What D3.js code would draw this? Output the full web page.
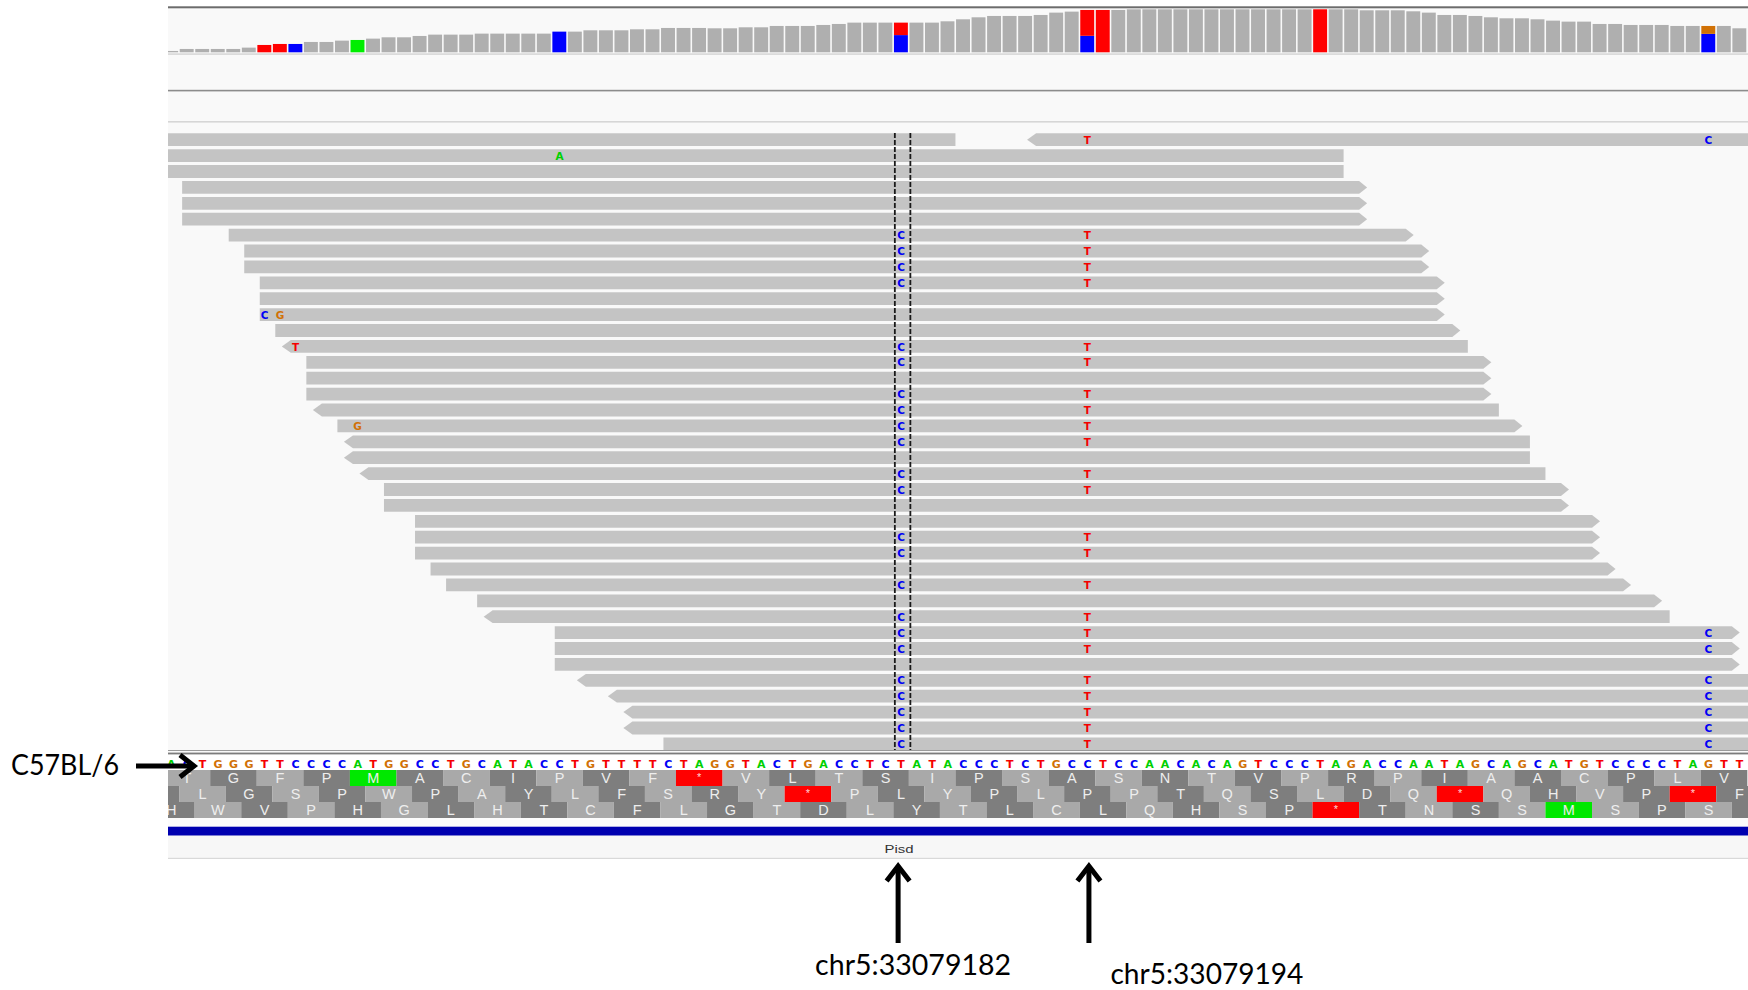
<!DOCTYPE html>
<html><head><meta charset="utf-8">
<script src="https://cdn.jsdelivr.net/npm/d3@7"></script>
<style>body{margin:0;background:#fff;}svg{display:block}</style>
</head><body>
<svg id="chart" width="1748" height="990"></svg>
<script>
// ---------------- DATA ----------------
const refStart = 33079135;               // genomic position of the first (leftmost) base shown
const refSeq = "ACTGGGTTCCCCATGGCCTGCATACCTGTTTTCTA" +
               "GGTACTGACCTCTATACCCTCTGCCTCCAACAC" +
               "AGTCCCTAGACCAATAGCAGCATGTCCCCTAGTT";
const coverage = [4,10,10,10,10,14,22,25,25,31,
  31,35,37,41,45,45,49,53,53,53,
  56,56,56,56,56,62,62,66,66,66,
  69,69,73,73,73,72,72,75,75,79,
  79,79,82,85,89,89,89,89,89,89,
  93,99,105,109,109,109,112,119,122,127,
  127,127,129,129,129,129,129,129,129,129,
  129,129,129,129,129,129,129,126,126,126,
  123,119,112,112,109,105,102,102,99,95,
  92,92,85,85,82,82,82,79,79,79,
  79,72];
// coloured coverage bars: base index -> allele fractions (bottom to top)
const coverageAlleles = [
  {i:6,  parts:[["T",1]]},
  {i:7,  parts:[["T",1]]},
  {i:8,  parts:[["C",1]]},
  {i:12, parts:[["A",1]]},
  {i:25, parts:[["C",1]]},
  {i:47, parts:[["C",0.58],["T",0.42]]},
  {i:59, parts:[["C",0.39],["T",0.61]]},
  {i:60, parts:[["T",1]]},
  {i:74, parts:[["T",1]]},
  {i:99, parts:[["C",0.70],["G",0.30]]}
];
// reads: [row, startBase, endBase, strand]
const reads = [
  [0,-25,51,"-"],[0,56,132,"-"],
  [1,0,76,"-"],[2,0,76,"-"],
  [3,1,77,"+"],[4,1,77,"+"],[5,1,77,"+"],
  [6,4,80,"+"],
  [7,5,81,"+"],[8,5,81,"+"],
  [9,6,82,"+"],[10,6,82,"+"],[11,6,82,"+"],
  [12,7,83,"+"],
  [13,8,84,"-"],
  [14,9,85,"+"],[15,9,85,"+"],[16,9,85,"+"],
  [17,10,86,"-"],
  [18,11,87,"+"],
  [19,12,88,"-"],[20,12,88,"-"],
  [21,13,89,"-"],
  [22,14,90,"+"],[23,14,90,"+"],
  [24,16,92,"+"],[25,16,92,"+"],[26,16,92,"+"],
  [27,17,93,"+"],
  [28,18,94,"+"],
  [29,20,96,"+"],
  [30,21,97,"-"],
  [31,25,101,"+"],[32,25,101,"+"],[33,25,101,"+"],
  [34,27,103,"-"],
  [35,29,105,"-"],
  [36,30,106,"-"],[37,30,106,"-"],
  [38,32,108,"+"]
];
// rows carrying the two SNPs (C at base 47, T at base 59) and the C at base 99
const snpRows = [6,7,8,9,13,14,16,17,18,19,21,22,25,26,28,30,31,32,34,35,36,37,38];
const cRows99 = [0,31,32,34,35,36,37,38];
const otherMismatches = [[0,59,"T"],[1,25,"A"],[11,6,"C"],[11,7,"G"],[13,8,"T"],[18,12,"G"]];
// three-frame translation: first codon start (base index) and amino acids
const frameStarts = [0, -2, -1];
const frameAA = [
  "TGFPMACIPVF*VLTSIPSASNTVPRPIAACPLV",
  " LGSPWPAYLFSRY*PLYPLPPTQSLDQ*QHVP*F",
  "HWVPHGLHTCFLGTDLYTLCLQHSP*TNSSMSPS "
];
const frameFirstLight = [true, false, false];
const geneName = "Pisd";
const markers = [{pos:33079182, label:"chr5:33079182"}, {pos:33079194, label:"chr5:33079194"}];
const strainLabel = "C57BL/6";

// ---------------- DRAW ----------------
const svg = d3.select("#chart");
const nBases = 102;
const x = d3.scaleLinear().domain([refStart, refStart + nBases]).range([163.6, 1747.3]);
const bw = x(refStart + 1) - x(refStart);
const xi = i => x(refStart + i);
const baseColor = {A:"#00d000", C:"#0000f5", G:"#d17105", T:"#f50000"};
const covColor = {A:"#00ee00", C:"#0000ff", G:"#d17105", T:"#ff0000"};
const L = 168, R = 1748;

svg.append("defs").append("clipPath").attr("id","clip")
  .append("rect").attr("x",L).attr("y",0).attr("width",R-L).attr("height",990);
const g = svg.append("g").attr("clip-path","url(#clip)");

// panel backgrounds
g.append("rect").attr("x",L).attr("y",8).attr("width",R-L).attr("height",850).attr("fill","#f9f9f9");
g.append("rect").attr("x",L).attr("y",754).attr("width",R-L).attr("height",16).attr("fill","#ffffff");
g.append("rect").attr("x",L).attr("y",818).attr("width",R-L).attr("height",9).attr("fill","#fcfcfc");

// track separators
g.append("rect").attr("x",L).attr("y",6.3).attr("width",R-L).attr("height",2).attr("fill","#6c6c6c");
g.append("rect").attr("x",L).attr("y",53.3).attr("width",R-L).attr("height",1.6).attr("fill","#d8d8d8");
g.append("rect").attr("x",L).attr("y",89.8).attr("width",R-L).attr("height",1.6).attr("fill","#8c8c8c");
g.append("rect").attr("x",L).attr("y",121).attr("width",R-L).attr("height",1.6).attr("fill","#d6d6d6");

// coverage
const yCov = d3.scaleLinear().domain([0, 129]).range([52.3, 9.3]);
const colored = new Map(coverageAlleles.map(d => [d.i, d.parts]));
coverage.forEach((v, i) => {
  const x0 = xi(i) + 0.6, wd = bw - 1.6;
  if (!colored.has(i)) {
    g.append("rect").attr("x",x0).attr("y",yCov(v)).attr("width",wd)
      .attr("height",yCov(0)-yCov(v)).attr("fill","#afafaf");
  } else {
    let acc = 0;
    colored.get(i).forEach(([b, f]) => {
      const y1 = yCov(v*acc), y2 = yCov(v*(acc+f));
      g.append("rect").attr("x",x0).attr("y",y2).attr("width",wd)
        .attr("height",y1-y2).attr("fill",covColor[b]);
      acc += f;
    });
  }
});

// reads
const rowTop = r => 133.3 + 15.9*r;
const rh = 12.8;
reads.forEach(([r, s, e, strand]) => {
  const xs = xi(s) + 3, xe = xi(e), y0 = rowTop(r), y1 = y0 + rh, ym = y0 + rh/2;
  let p;
  if (strand === "+") p = `M${xs},${y0}L${xe},${y0}L${xe+8},${ym}L${xe},${y1}L${xs},${y1}Z`;
  else p = `M${xs-9},${ym}L${xs},${y0}L${xe},${y0}L${xe},${y1}L${xs},${y1}Z`;
  g.append("path").attr("d",p).attr("fill","#c4c4c4");
});

// mismatches
const mism = [];
snpRows.forEach(r => { mism.push([r,47,"C"]); mism.push([r,59,"T"]); });
cRows99.forEach(r => mism.push([r,99,"C"]));
otherMismatches.forEach(m => mism.push(m));
g.selectAll("text.mm").data(mism).join("text").attr("class","mm")
  .attr("x", d => xi(d[1]) + bw/2).attr("y", d => rowTop(d[0]) + 10.5)
  .attr("text-anchor","middle").attr("font-family","DejaVu Sans").attr("font-weight","bold")
  .attr("font-size",10.5).attr("fill", d => baseColor[d[2]]).text(d => d[2]);

// centre guide lines (dashed)
[47, 48].forEach(i => {
  g.append("line").attr("x1",xi(i)+1.5).attr("x2",xi(i)+1.5).attr("y1",133).attr("y2",750)
    .attr("stroke","#1a1a1a").attr("stroke-width",1.8).attr("stroke-dasharray","5,2");
});

// bottom of alignment panel
g.append("rect").attr("x",L).attr("y",750).attr("width",R-L).attr("height",1).attr("fill","#9a9a9a");
g.append("rect").attr("x",L).attr("y",752.6).attr("width",R-L).attr("height",1.8).attr("fill","#7c7c7c");

// reference sequence
g.selectAll("text.seq").data(refSeq.split("")).join("text").attr("class","seq")
  .attr("x", (d,i) => xi(i) + bw/2).attr("y", 767.5)
  .attr("text-anchor","middle").attr("font-family","DejaVu Sans").attr("font-weight","bold")
  .attr("font-size",11).attr("fill", d => baseColor[d]).text(d => d);

// translation
const trTop = [770, 786, 802], trH = 16;
frameAA.forEach((aas, f) => {
  aas.split("").forEach((aa, j) => {
    const s = frameStarts[f] + 3*j;
    const x0 = xi(s), x1 = xi(s+3);
    const light = (j % 2 === 0) === frameFirstLight[f];
    let fill = light ? "#a9a9a9" : "#7e7e7e";
    if (aa === "*") fill = "#ff0000";
    if (aa === "M") fill = "#00e800";
    g.append("rect").attr("x",x0).attr("y",trTop[f]).attr("width",x1-x0).attr("height",trH).attr("fill",fill);
    if (aa.trim() !== "") {
      g.append("text").attr("x",(x0+x1)/2).attr("y", aa === "*" ? trTop[f]+11 : trTop[f]+13.2)
        .attr("text-anchor","middle").attr("font-family","Liberation Sans")
        .attr("font-size", aa === "*" ? 11 : 14.5).attr("fill", aa === "*" ? "#ffd6d6" : "#eeeeee").text(aa);
    }
  });
});

// gene feature
g.append("rect").attr("x",L).attr("y",826.7).attr("width",R-L).attr("height",9).attr("fill","#0000b0");
g.append("rect").attr("x",L).attr("y",835.7).attr("width",R-L).attr("height",22.5).attr("fill","#f7f7f7");
g.append("rect").attr("x",L).attr("y",857.8).attr("width",R-L).attr("height",1.2).attr("fill","#d9d9d9");
g.append("text").attr("x", x(markers[0].pos) + bw/2 - 2).attr("y",853).attr("text-anchor","middle")
  .attr("font-family","Liberation Sans").attr("font-size",11.5).attr("fill","#333")
  .attr("textLength",29).attr("lengthAdjust","spacingAndGlyphs").text(geneName);

// annotation arrows and labels
const labelY = [975, 984];
const labelW = [196, 193];
const labelDX = [15, 118];
const arrowDX = [-3, 1.5];
markers.forEach((m, k) => {
  const cx = x(m.pos) + bw/2 + arrowDX[k];
  svg.append("line").attr("x1",cx).attr("x2",cx).attr("y1",867).attr("y2",943)
    .attr("stroke","#000").attr("stroke-width",5);
  svg.append("path").attr("d",`M${cx-11.5},${881}L${cx},${866}L${cx+11.5},${881}`)
    .attr("fill","none").attr("stroke","#000").attr("stroke-width",5).attr("stroke-linejoin","miter");
  svg.append("text").attr("x", cx + labelDX[k]).attr("y", labelY[k]).attr("text-anchor","middle")
    .attr("font-family","Lato").attr("font-size",29).attr("fill","#000")
    .attr("textLength",labelW[k]).attr("lengthAdjust","spacingAndGlyphs").text(m.label);
});

svg.append("text").attr("x",11).attr("y",775).attr("font-family","Lato").attr("font-size",28)
  .attr("fill","#000").attr("textLength",108).attr("lengthAdjust","spacingAndGlyphs").text(strainLabel);
svg.append("line").attr("x1",136).attr("x2",192).attr("y1",766).attr("y2",766)
  .attr("stroke","#000").attr("stroke-width",5);
svg.append("path").attr("d","M180,755L194,766L180,777").attr("fill","none")
  .attr("stroke","#000").attr("stroke-width",5);
</script>
</body></html>
